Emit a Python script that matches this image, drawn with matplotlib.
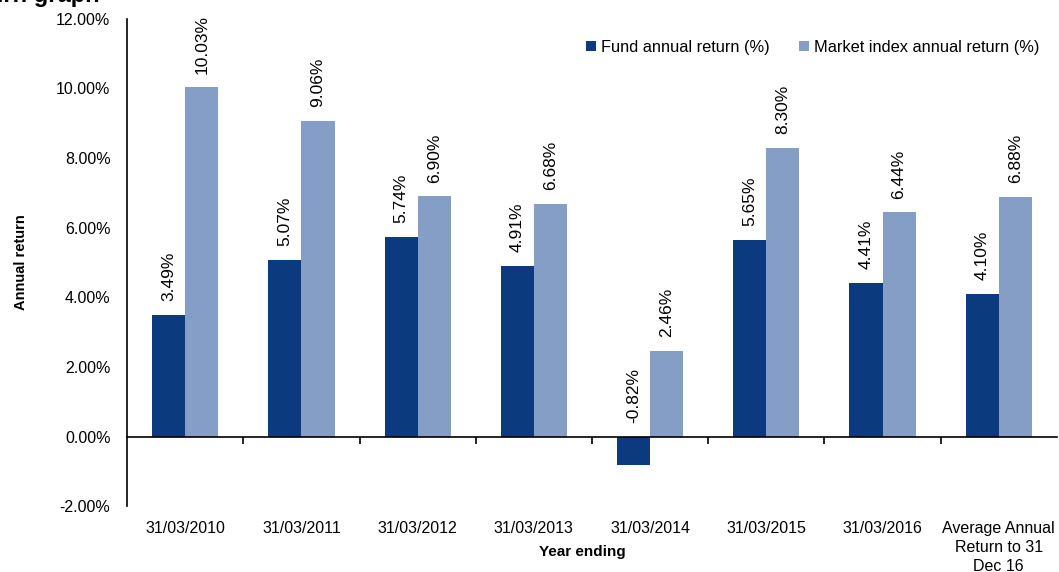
import matplotlib.pyplot as plt
import numpy as np

plt.rcParams['font.family'] = ['Liberation Sans', 'DejaVu Sans']

# Data
categories = ['31/03/2010', '31/03/2011', '31/03/2012', '31/03/2013',
              '31/03/2014', '31/03/2015', '31/03/2016',
              'Average Annual\nReturn to 31\nDec 16']
fund_returns = [3.49, 5.07, 5.74, 4.91, -0.82, 5.65, 4.41, 4.10]
market_returns = [10.03, 9.06, 6.90, 6.68, 2.46, 8.30, 6.44, 6.88]

fund_color = '#0b3a7e'
market_color = '#849ec5'

fig = plt.figure(figsize=(10.59, 5.72), dpi=100)
ax = fig.add_axes([0.12, 0.115, 0.878, 0.852])

x = np.arange(len(categories))
bar_width = 0.285

fund_bars = ax.bar(x - bar_width / 2, fund_returns, bar_width,
                   color=fund_color, label='Fund annual return (%)')
market_bars = ax.bar(x + bar_width / 2, market_returns, bar_width,
                     color=market_color, label='Market index annual return (%)')

# Value labels, rotated, above the bar (or above zero for negatives)
for bars, values in [(fund_bars, fund_returns), (market_bars, market_returns)]:
    for b, v in zip(bars, values):
        ax.annotate(f'{v:.2f}%', (b.get_x() + b.get_width() / 2, max(v, 0)),
                    xytext=(0, 10), textcoords='offset points',
                    rotation=90, ha='center', va='bottom', fontsize=12.5)

ax.set_xlim(-0.5, len(categories) - 0.5)
ax.set_ylim(-2, 12)
ax.set_yticks(np.arange(-2, 12.1, 2))
ax.set_yticklabels([f'{t:.2f}%' for t in np.arange(-2, 12.1, 2)])
ax.tick_params(axis='y', length=0, labelsize=11.5, pad=12)

# Bottom spine at zero with boundary ticks
ax.spines['bottom'].set_position(('data', 0))
ax.spines['top'].set_visible(False)
ax.spines['right'].set_visible(False)
ax.spines['left'].set_linewidth(1.2)
ax.spines['bottom'].set_linewidth(1.2)
ax.set_xticks(np.arange(len(categories) - 1) + 0.5)
ax.set_xticklabels([])
ax.tick_params(axis='x', direction='out', length=5, width=1.2)

# Category labels along the bottom of the axes
sec = ax.secondary_xaxis('bottom')
sec.set_xticks(x)
sec.set_xticklabels(categories, fontsize=11.5, va='top', linespacing=1.3)
sec.tick_params(length=0, pad=11)
sec.spines['bottom'].set_visible(False)

fig.text(582 / 1059, 1 - 552 / 572, 'Year ending',
         ha='center', va='center', fontsize=11, fontweight='bold')

ax.set_ylabel('Annual return', fontsize=10.5, fontweight='bold', labelpad=20)

ax.legend(loc='upper right', bbox_to_anchor=(0.997, 0.987), ncol=2, frameon=False,
          fontsize=11.8, handlelength=0.6, handleheight=0.6, handletextpad=0.3,
          columnspacing=1.8)

# Cropped heading at the very top
fig.text(100 / 1059, 1 - 2 / 572, 'Return graph', ha='right', va='baseline',
         fontsize=17, fontweight='bold')

fig.savefig('out.png', dpi=100)
